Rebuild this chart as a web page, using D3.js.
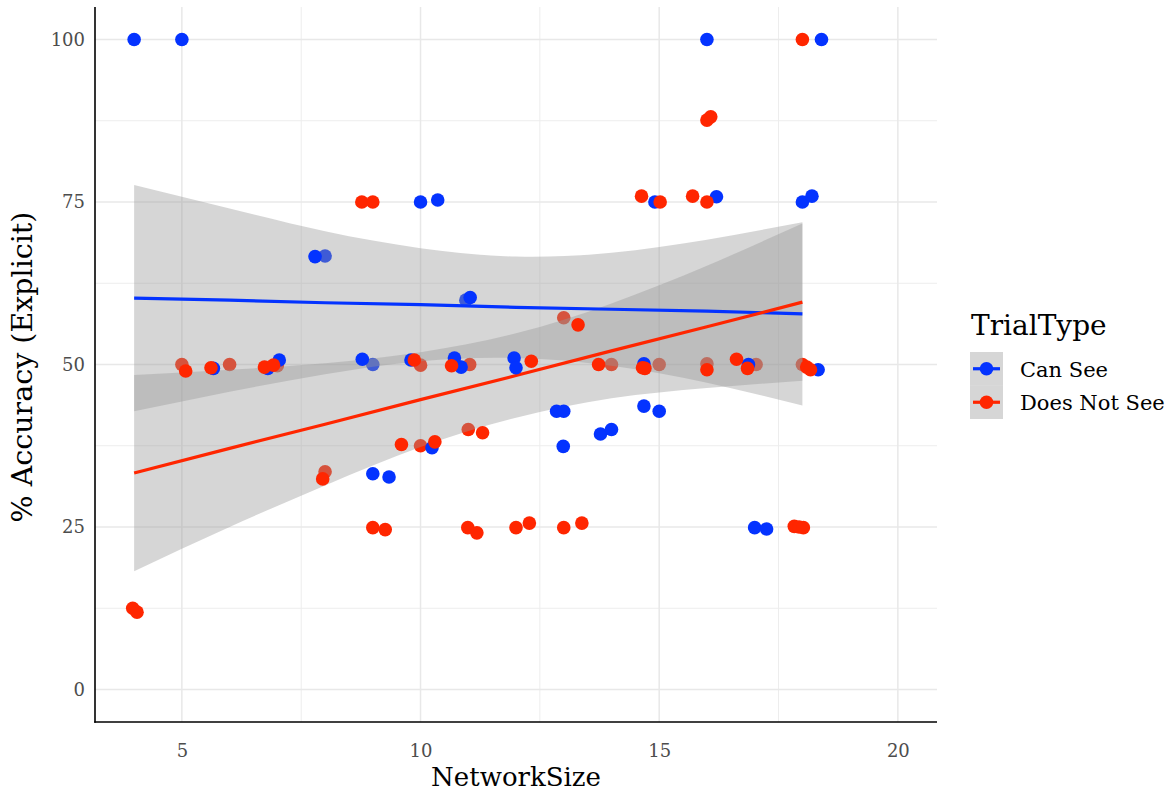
<!DOCTYPE html>
<html>
<head>
<meta charset="utf-8">
<script src="https://cdn.jsdelivr.net/npm/d3@7"></script>
<style>
  html, body { margin: 0; padding: 0; background: #ffffff; }
  svg { display: block; font-family: "DejaVu Serif", "Liberation Serif", serif; }
</style>
</head>
<body>
<svg id="chart" width="1170" height="797"></svg>
<script>
// ---------------- data ----------------
const seriesNames = ["Can See", "Does Not See"];
const seriesColors = ["#0433FF", "#FF2600"];

const xTicks = [5, 10, 15, 20];
const xMinor = [7.5, 12.5, 17.5];
const yTicks = [0, 25, 50, 75, 100];
const yMinor = [12.5, 37.5, 62.5, 87.5];

// Can See: points drawn above the confidence bands
const canSeePoints = [
  [4.0, 100], [5.0, 100], [16.0, 100], [18.4, 100],
  [10.0, 75], [10.36, 75.3], [14.91, 75], [16.2, 75.8], [18.0, 75], [18.2, 75.9],
  [7.79, 66.6], [11.04, 60.3],
  [5.66, 49.4], [6.8, 49.4], [7.04, 50.7], [8.78, 50.8], [9.8, 50.7], [10.71, 51.0],
  [10.85, 49.6], [11.96, 51.0], [12.0, 49.5], [14.68, 50.1], [16.87, 50.0], [18.33, 49.2],
  [12.85, 42.8], [13.0, 42.8], [14.68, 43.6], [15.0, 42.8],
  [13.77, 39.3], [14.0, 40.0], [12.99, 37.4], [10.24, 37.2],
  [9.0, 33.2], [9.34, 32.7],
  [17.0, 24.9], [17.25, 24.7]
];
// Can See: points lying beneath the confidence bands
const canSeeBehind = [[8.0, 66.7], [10.95, 59.9], [9.0, 50.0]];

// Does Not See: points drawn above the confidence bands
const notSeePoints = [
  [18.0, 100],
  [16.0, 87.6], [16.08, 88.1],
  [8.77, 75], [9.0, 75], [14.63, 75.9], [15.02, 75], [15.7, 75.9], [16.0, 75],
  [13.3, 56.1],
  [5.08, 49.0], [5.61, 49.5], [6.73, 49.6], [6.92, 49.9], [9.87, 50.7], [10.65, 49.8],
  [12.32, 50.5], [13.73, 50.0], [14.65, 49.5], [14.7, 49.4], [16.0, 49.2], [16.62, 50.8],
  [16.85, 49.4], [18.09, 49.6], [18.17, 49.2],
  [11.3, 39.5], [9.6, 37.7], [10.3, 38.1],
  [7.95, 32.4],
  [9.0, 24.9], [9.26, 24.6], [10.99, 24.9], [11.18, 24.1], [12.0, 24.9], [12.28, 25.6],
  [13.0, 24.9], [13.38, 25.6], [17.83, 25.1], [17.93, 25.0], [18.02, 24.9],
  [3.97, 12.5], [4.06, 11.9]
];
// Does Not See: points lying beneath the confidence bands
const notSeeBehind = [
  [5.0, 50], [6.0, 50], [7.0, 49.8], [10.0, 49.9], [11.03, 50], [14.0, 50], [15.0, 50],
  [16.0, 50.1], [17.03, 50], [18.0, 50], [13.0, 57.2], [11.0, 40], [10.0, 37.5], [8.0, 33.5]
];

// fitted lines and confidence bands, read at these NetworkSize values
const bandX = [4, 6, 8, 10, 12, 14, 16, 18];
const canSeeFit   = [60.2, 59.9, 59.5, 59.2, 58.8, 58.5, 58.2, 57.8];
const canSeeLower = [42.8, 45.8, 48.5, 50.5, 51.0, 49.8, 47.2, 43.7];
const canSeeUpper = [77.6, 74.0, 70.5, 67.9, 66.6, 67.2, 69.2, 71.9];
const notSeeFit   = [33.3, 37.1, 40.8, 44.6, 48.3, 52.1, 55.8, 59.6];
const notSeeLower = [18.2, 25.0, 31.4, 37.3, 41.8, 44.8, 46.4, 47.5];
const notSeeUpper = [48.4, 49.2, 50.2, 51.9, 54.8, 59.4, 65.2, 71.7];

// ---------------- drawing ----------------
const svg = d3.select("#chart");
const panel = { left: 95, right: 937, top: 7, bottom: 722 };

const x = d3.scaleLinear().domain([3.18, 20.82]).range([panel.left, panel.right]);
const y = d3.scaleLinear().domain([-5, 105]).range([panel.bottom, panel.top]);

const grid = svg.append("g");
grid.selectAll("line.hmin").data(yMinor).join("line")
  .attr("x1", panel.left).attr("x2", panel.right)
  .attr("y1", d => y(d)).attr("y2", d => y(d))
  .attr("stroke", "#ededed").attr("stroke-width", 1);
grid.selectAll("line.vmin").data(xMinor).join("line")
  .attr("y1", panel.top).attr("y2", panel.bottom)
  .attr("x1", d => x(d)).attr("x2", d => x(d))
  .attr("stroke", "#ededed").attr("stroke-width", 1);
grid.selectAll("line.hmaj").data(yTicks).join("line")
  .attr("x1", panel.left).attr("x2", panel.right)
  .attr("y1", d => y(d)).attr("y2", d => y(d))
  .attr("stroke", "#e8e8e8").attr("stroke-width", 1.5);
grid.selectAll("line.vmaj").data(xTicks).join("line")
  .attr("y1", panel.top).attr("y2", panel.bottom)
  .attr("x1", d => x(d)).attr("x2", d => x(d))
  .attr("stroke", "#e8e8e8").attr("stroke-width", 1.5);

const R = 6.8;
function drawPoints(g, data, color) {
  g.selectAll(null).data(data).join("circle")
    .attr("cx", d => x(d[0])).attr("cy", d => y(d[1]))
    .attr("r", R).attr("fill", color);
}

// points beneath the bands
const under = svg.append("g");
drawPoints(under, canSeeBehind, seriesColors[0]);
drawPoints(under, notSeeBehind, seriesColors[1]);

// confidence bands
const area = d3.area()
  .x(d => x(d.x)).y0(d => y(d.lo)).y1(d => y(d.hi))
  .curve(d3.curveNatural);
const bands = [
  bandX.map((v, i) => ({ x: v, lo: canSeeLower[i], hi: canSeeUpper[i] })),
  bandX.map((v, i) => ({ x: v, lo: notSeeLower[i], hi: notSeeUpper[i] }))
];
svg.append("g").selectAll("path").data(bands).join("path")
  .attr("d", area)
  .attr("fill", "#999999").attr("fill-opacity", 0.4);

// fitted lines
const line = d3.line().x(d => x(d.x)).y(d => y(d.v));
const fits = [
  bandX.map((v, i) => ({ x: v, v: canSeeFit[i] })),
  bandX.map((v, i) => ({ x: v, v: notSeeFit[i] }))
];
svg.append("g").selectAll("path").data(fits).join("path")
  .attr("d", line)
  .attr("fill", "none")
  .attr("stroke", (d, i) => seriesColors[i])
  .attr("stroke-width", 3.2);

// points above the bands
const over = svg.append("g");
drawPoints(over, canSeePoints, seriesColors[0]);
drawPoints(over, notSeePoints, seriesColors[1]);

// axis lines
svg.append("line").attr("x1", panel.left).attr("x2", panel.left)
  .attr("y1", panel.top).attr("y2", panel.bottom + 0.75)
  .attr("stroke", "#000").attr("stroke-width", 1.6);
svg.append("line").attr("x1", panel.left - 0.75).attr("x2", panel.right)
  .attr("y1", panel.bottom).attr("y2", panel.bottom)
  .attr("stroke", "#000").attr("stroke-width", 1.6);

// axes labels via d3 axes (no tick marks / domain)
const xAxis = svg.append("g").attr("transform", `translate(0,${panel.bottom})`)
  .call(d3.axisBottom(x).tickValues(xTicks).tickSize(0).tickPadding(22));
xAxis.select(".domain").remove();
xAxis.selectAll("text").attr("font-family", "DejaVu Serif").attr("font-size", 18).attr("fill", "#4d4d4d");

const yAxis = svg.append("g").attr("transform", `translate(${panel.left},0)`)
  .call(d3.axisLeft(y).tickValues(yTicks).tickSize(0).tickPadding(10));
yAxis.select(".domain").remove();
yAxis.selectAll("text").attr("font-family", "DejaVu Serif").attr("font-size", 18).attr("fill", "#4d4d4d");

// axis titles
svg.append("text")
  .attr("x", (panel.left + panel.right) / 2).attr("y", 786)
  .attr("text-anchor", "middle").attr("font-size", 26).attr("fill", "#000")
  .text("NetworkSize");
svg.append("text")
  .attr("transform", `translate(32,367) rotate(-90)`)
  .attr("text-anchor", "middle").attr("font-size", 28.5).attr("fill", "#000")
  .text("% Accuracy (Explicit)");

// legend
const lg = svg.append("g");
lg.append("text").attr("x", 971).attr("y", 335)
  .attr("font-size", 28).attr("fill", "#000").text("TrialType");
const keyTop = 352, keyH = 33.5, keyX = 970, keyW = 33;
seriesNames.forEach((name, i) => {
  const ky = keyTop + i * keyH;
  lg.append("rect").attr("x", keyX).attr("y", ky).attr("width", keyW).attr("height", keyH)
    .attr("fill", "#999999").attr("fill-opacity", 0.4);
  const cy = ky + keyH / 2;
  lg.append("line").attr("x1", keyX + 3).attr("x2", keyX + keyW - 3)
    .attr("y1", cy).attr("y2", cy)
    .attr("stroke", seriesColors[i]).attr("stroke-width", 3.2);
  lg.append("circle").attr("cx", keyX + keyW / 2).attr("cy", cy).attr("r", R)
    .attr("fill", seriesColors[i]);
  lg.append("text").attr("x", 1020).attr("y", cy + 8)
    .attr("font-size", 21).attr("fill", "#000").text(name);
});
</script>
</body>
</html>
